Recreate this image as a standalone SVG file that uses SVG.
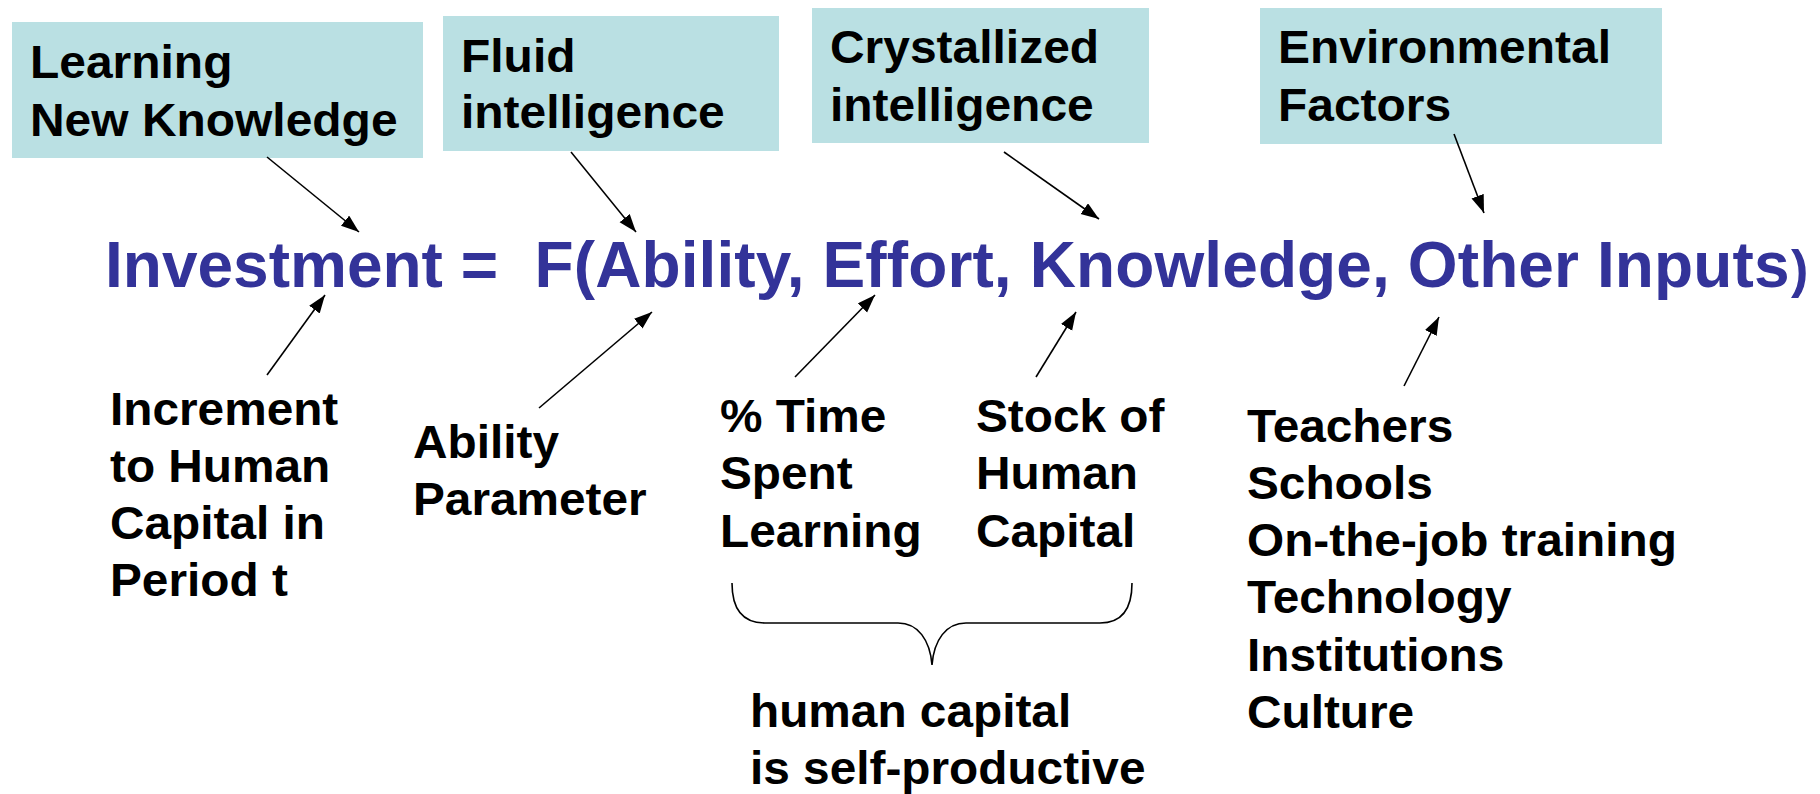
<svg xmlns="http://www.w3.org/2000/svg" width="1820" height="794" viewBox="0 0 1820 794">
  <style>
    .box { fill: #BAE0E3; }
    .lbl { font-family: "Liberation Sans", Arial, sans-serif; font-weight: bold; fill: #000; }
    .top { font-size: 47px; }
    .bot { font-size: 45.5px; }
    .eq { font-family: "Liberation Sans", Arial, sans-serif; font-weight: bold; font-size: 64px; fill: #333399; }
    .conn { stroke: #000; stroke-width: 1.6; fill: none; marker-end: url(#head); }
    .brace { stroke: #000; stroke-width: 1.6; fill: none; }
  </style>
  <defs>
    <marker id="head" markerUnits="userSpaceOnUse" markerWidth="20" markerHeight="14" refX="18" refY="6.5" orient="auto">
      <path d="M0,0 L18,6.5 L0,13 z" fill="#000"/>
    </marker>
  </defs>

  <rect width="1820" height="794" fill="#fff"/>

  <!-- labelled boxes above the equation -->
  <g id="node-learning">
    <rect class="box" x="12" y="22" width="411" height="136"/>
    <text class="lbl top" transform="translate(30,78) scale(1.02,1)"><tspan x="0" y="0">Learning</tspan><tspan x="0" y="58">New Knowledge</tspan></text>
  </g>
  <g id="node-fluid">
    <rect class="box" x="443" y="16" width="336" height="135"/>
    <text class="lbl top" transform="translate(461,72) scale(1.02,1)"><tspan x="0" y="0">Fluid</tspan><tspan x="0" y="56.5">intelligence</tspan></text>
  </g>
  <g id="node-crystallized">
    <rect class="box" x="812" y="8" width="337" height="135"/>
    <text class="lbl top" transform="translate(830,63) scale(1.02,1)"><tspan x="0" y="0">Crystallized</tspan><tspan x="0" y="58">intelligence</tspan></text>
  </g>
  <g id="node-environmental">
    <rect class="box" x="1260" y="8" width="402" height="136"/>
    <text class="lbl top" transform="translate(1278,63) scale(1.02,1)"><tspan x="0" y="0">Environmental</tspan><tspan x="0" y="58">Factors</tspan></text>
  </g>

  <!-- the equation -->
  <g id="node-equation">
    <text class="eq" x="105" y="287">Investment =</text>
    <text class="eq" y="287"><tspan x="534.5" textLength="1255" lengthAdjust="spacing">F(Ability, Effort, Knowledge, Other Inputs</tspan><tspan x="1791" font-size="52">)</tspan></text>
  </g>

  <!-- labels below the equation -->
  <g id="node-increment">
    <text class="lbl bot" transform="translate(110,425) scale(1.05,1)"><tspan x="0" y="0">Increment</tspan><tspan x="0" y="57">to Human</tspan><tspan x="0" y="114">Capital in</tspan><tspan x="0" y="171">Period t</tspan></text>
  </g>
  <g id="node-ability">
    <text class="lbl bot" transform="translate(413,458) scale(1.05,1)"><tspan x="0" y="0">Ability</tspan><tspan x="0" y="57">Parameter</tspan></text>
  </g>
  <g id="node-time">
    <text class="lbl bot" transform="translate(720,432) scale(1.05,1)"><tspan x="0" y="0">% Time</tspan><tspan x="0" y="57">Spent</tspan><tspan x="0" y="115">Learning</tspan></text>
  </g>
  <g id="node-stock">
    <text class="lbl bot" transform="translate(976,432) scale(1.05,1)"><tspan x="0" y="0">Stock of</tspan><tspan x="0" y="57">Human</tspan><tspan x="0" y="115">Capital</tspan></text>
  </g>
  <g id="node-environment-list">
    <text class="lbl bot" transform="translate(1247,442) scale(1.05,1)"><tspan x="0" y="0">Teachers</tspan><tspan x="0" y="57">Schools</tspan><tspan x="0" y="114">On-the-job training</tspan><tspan x="0" y="171">Technology</tspan><tspan x="0" y="229">Institutions</tspan><tspan x="0" y="286">Culture</tspan></text>
  </g>
  <g id="node-selfproductive">
    <path class="brace" d="M732,583 C732,608 742,623 765,623 L898,623 C918,623 930,640 932,665 C934,640 946,623 966,623 L1100,623 C1122,623 1132,608 1132,583"/>
    <text class="lbl bot" transform="translate(750,727) scale(1.05,1)"><tspan x="0" y="0">human capital</tspan><tspan x="0" y="57">is self-productive</tspan></text>
  </g>

  <!-- connectors -->
  <g id="connectors">
    <line class="conn" x1="267" y1="157" x2="359" y2="232"/>
    <line class="conn" x1="571" y1="152" x2="636" y2="232"/>
    <line class="conn" x1="1004" y1="152" x2="1099" y2="219"/>
    <line class="conn" x1="1454" y1="134" x2="1484" y2="213"/>
    <line class="conn" x1="267" y1="375" x2="325" y2="295"/>
    <line class="conn" x1="539" y1="408" x2="652" y2="312"/>
    <line class="conn" x1="795" y1="377" x2="875" y2="295"/>
    <line class="conn" x1="1036" y1="377" x2="1076" y2="312"/>
    <line class="conn" x1="1404" y1="386" x2="1439" y2="317"/>
  </g>
</svg>
